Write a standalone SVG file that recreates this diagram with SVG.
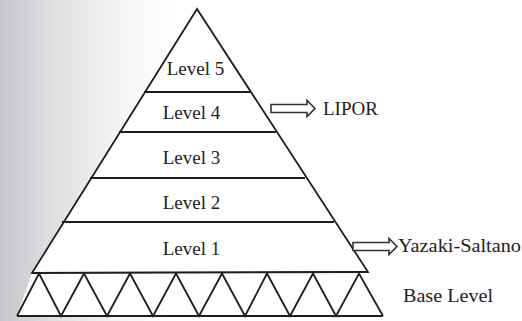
<svg xmlns="http://www.w3.org/2000/svg" width="522" height="321" viewBox="0 0 522 321">
<defs>
<linearGradient id="bg" x1="0" y1="0" x2="1" y2="0">
<stop offset="0" stop-color="#c4c6ca"/>
<stop offset="0.3" stop-color="#dfe0e2"/>
<stop offset="0.7" stop-color="#f6f6f7"/>
<stop offset="1" stop-color="#ffffff"/>
</linearGradient>
<style>
.ln{fill:none;stroke:#1e1e1e;stroke-width:1.8;stroke-linejoin:miter}
.lbl{font-family:Liberation Serif, serif;font-size:19px;fill:#222222}
.arr{fill:#ffffff;stroke:#333333;stroke-width:1.6;stroke-linejoin:miter}
</style>
</defs>
<rect x="0" y="0" width="522" height="321" fill="#ffffff"/>
<rect x="0" y="0" width="180" height="321" fill="url(#bg)"/>
<g id="pyramid">
<polygon class="ln" points="197,9 32,273 368,272" style="fill:#ffffff"/>
<line class="ln" x1="144" y1="92" x2="250" y2="92"/>
<line class="ln" x1="119" y1="132" x2="276" y2="132"/>
<line class="ln" x1="90" y1="178" x2="305" y2="178"/>
<line class="ln" x1="62" y1="222" x2="334" y2="222"/>
</g>
<g id="base">
<polygon points="32,273 368,272 383,316 17,316" fill="#ffffff" stroke="none"/>
<line class="ln" x1="32" y1="273" x2="368" y2="272"/>
<line class="ln" x1="17" y1="316" x2="383" y2="316"/>
<polyline class="ln" points="17,316 39,273.5 61,316 84,273.5 107,316 130,273.5 153,316 176,273.5 199,316 222,273.5 245,316 267,273.5 290,316 313,273.5 336,316 359,273.5 383,316"/>
</g>
<g id="level5"><text class="lbl" font-family="Liberation Serif" x="195.5" y="75" text-anchor="middle">Level 5</text></g>
<g id="level4"><text class="lbl" font-family="Liberation Serif" x="191.5" y="119" text-anchor="middle">Level 4</text></g>
<g id="level3"><text class="lbl" font-family="Liberation Serif" x="191.5" y="164" text-anchor="middle">Level 3</text></g>
<g id="level2"><text class="lbl" font-family="Liberation Serif" x="191.5" y="209" text-anchor="middle">Level 2</text></g>
<g id="level1"><text class="lbl" font-family="Liberation Serif" x="191.5" y="255" text-anchor="middle">Level 1</text></g>
<g id="baselevel"><text class="lbl" font-family="Liberation Serif" x="403" y="302" textLength="90" lengthAdjust="spacingAndGlyphs">Base Level</text></g>
<g id="lipor"><text class="lbl" font-family="Liberation Serif" x="323" y="115">LIPOR</text></g>
<g id="yazaki"><text class="lbl" font-family="Liberation Serif" x="398" y="252" textLength="123" lengthAdjust="spacingAndGlyphs">Yazaki-Saltano</text></g>
<g id="connectors">
<polygon class="arr" points="271,104.5 307,104.5 307,100.5 315,108.5 307,116.5 307,112.5 271,112.5"/>
<polygon class="arr" points="353,242.5 389,242.5 389,238.5 397,246.5 389,254.5 389,250.5 353,250.5"/>
</g>
</svg>
